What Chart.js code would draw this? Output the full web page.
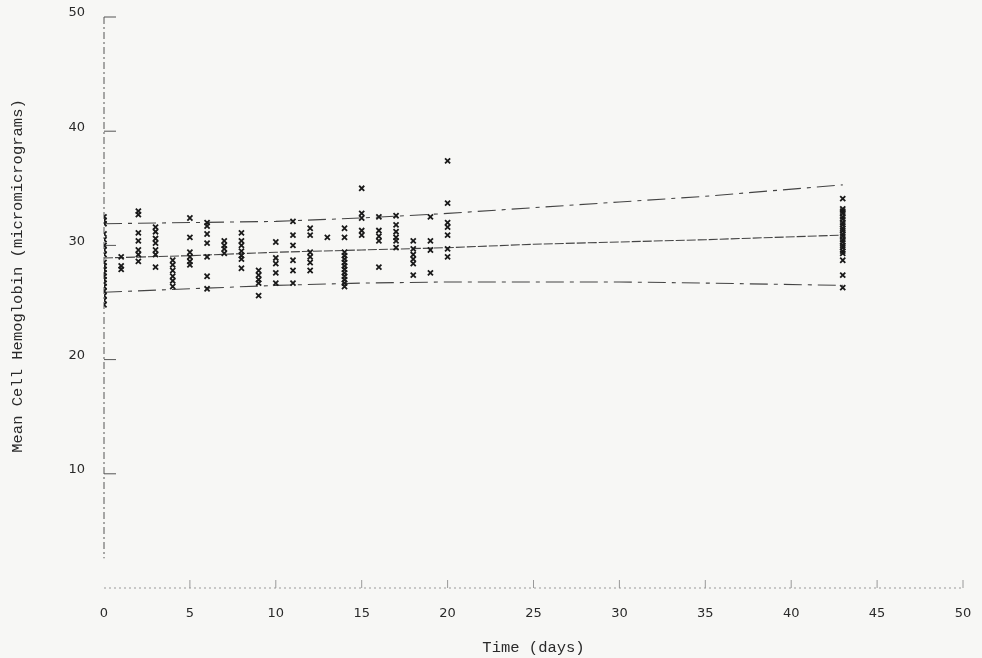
<!DOCTYPE html>
<html>
<head>
<meta charset="utf-8">
<title>Mean Cell Hemoglobin</title>
<script src="https://cdn.jsdelivr.net/npm/chart.js@4.4.1/dist/chart.umd.min.js"></script>
<style>
  html, body { margin: 0; padding: 0; background: #f7f7f5; }
  #wrap { width: 982px; height: 658px; position: relative; }
</style>
</head>
<body>
<div id="wrap"><canvas id="mchChart"></canvas></div>
<script>
// --- data ---
const days = [0, 1, 2, 3, 4, 5, 6, 7, 8, 9, 10, 11, 12, 13, 14, 15, 16, 17, 18, 19, 20, 43];
const mchByDay = [
    [32.5, 32.2, 31.9, 31.0, 30.5, 30.0, 29.6, 29.2, 28.5, 28.2, 27.9, 27.6, 27.3, 27.0, 26.7, 26.4, 26.0, 25.6, 25.2, 24.8],
    [29.0, 28.2, 27.9],
    [33.0, 32.7, 31.1, 30.4, 29.6, 29.2, 28.6],
    [31.6, 31.2, 30.6, 30.2, 29.6, 29.2, 28.1],
    [28.7, 28.3, 27.8, 27.3, 26.9, 26.4],
    [32.4, 30.7, 29.4, 29.0, 28.6, 28.3],
    [32.0, 31.7, 31.0, 30.2, 29.0, 27.3, 26.2],
    [30.4, 30.0, 29.7, 29.3],
    [31.1, 30.4, 30.0, 29.5, 29.1, 28.8, 28.0],
    [27.8, 27.4, 27.0, 26.7, 25.6],
    [30.3, 28.9, 28.4, 27.6, 26.7],
    [32.1, 30.9, 30.0, 28.7, 27.8, 26.7],
    [31.5, 30.9, 29.4, 29.0, 28.5, 27.8],
    [30.7],
    [31.5, 30.7, 29.4, 29.1, 28.8, 28.5, 28.2, 27.9, 27.6, 27.3, 27.0, 26.7, 26.4],
    [35.0, 32.8, 32.4, 31.3, 30.9],
    [32.5, 31.3, 30.8, 30.4, 28.1],
    [32.6, 31.8, 31.2, 30.7, 30.4, 29.8],
    [30.4, 29.7, 29.2, 28.8, 28.4, 27.4],
    [32.5, 30.4, 29.6, 27.6],
    [37.4, 33.7, 32.0, 31.6, 30.9, 29.7, 29.0],
    [34.1, 33.2, 33.0, 32.8, 32.5, 32.3, 32.0, 31.8, 31.5, 31.3, 31.0, 30.8, 30.5, 30.3, 30.0, 29.8, 29.5, 29.3, 28.7, 27.4, 26.3]
];

// fitted line and band, read at these days
const fitDays = [0, 5, 10, 15, 20, 25, 30, 35, 43];
const fitMean = [28.9, 29.1, 29.4, 29.6, 29.8, 30.1, 30.3, 30.5, 30.9];
const fitUpper = [31.9, 32.0, 32.1, 32.4, 32.8, 33.3, 33.8, 34.3, 35.3];
const fitLower = [25.9, 26.2, 26.5, 26.7, 26.8, 26.8, 26.8, 26.7, 26.5];

const xTicks = [0, 5, 10, 15, 20, 25, 30, 35, 40, 45, 50];
const yTicks = [10, 20, 30, 40, 50];
const xTitle = 'Time (days)';
const yTitle = 'Mean Cell Hemoglobin (micromicrograms)';

const scatterPts = [];
days.forEach((d, i) => mchByDay[i].forEach(v => scatterPts.push({ x: d, y: v })));
const toXY = (xs, ys) => xs.map((x, i) => ({ x: x, y: ys[i] }));

// axes, little ticks and titles drawn like the old plotter output
const plotterAxes = {
    id: 'plotterAxes',
    beforeDraw(chart) {
        const c = chart.ctx;
        c.save();
        c.fillStyle = '#f7f7f5';
        c.fillRect(0, 0, chart.width, chart.height);
        c.restore();
    },
    beforeDatasetsDraw(chart) {
        const c = chart.ctx;
        const xs = chart.scales.x, ys = chart.scales.y;
        const x0 = xs.getPixelForValue(0);
        const y0 = ys.getPixelForValue(0);
        c.save();
        // y axis, dash-dot
        c.strokeStyle = '#555';
        c.lineWidth = 1;
        c.setLineDash([7, 3, 2, 3]);
        c.beginPath();
        c.moveTo(x0, ys.getPixelForValue(50));
        c.lineTo(x0, ys.getPixelForValue(2.6));
        c.stroke();
        c.setLineDash([]);
        yTicks.forEach(v => {
            const p = ys.getPixelForValue(v);
            c.beginPath();
            c.moveTo(x0, p);
            c.lineTo(x0 + 12, p);
            c.stroke();
        });
        // x axis, faint dotted
        c.strokeStyle = '#999';
        c.setLineDash([2, 3]);
        c.beginPath();
        c.moveTo(x0, y0);
        c.lineTo(xs.getPixelForValue(50), y0);
        c.stroke();
        c.setLineDash([]);
        xTicks.slice(1).forEach(v => {
            const p = xs.getPixelForValue(v);
            c.beginPath();
            c.moveTo(p, y0);
            c.lineTo(p, y0 - 8);
            c.stroke();
        });
        // titles
        c.fillStyle = '#2a2a2a';
        c.font = '15.5px "Liberation Mono", monospace';
        c.textAlign = 'center';
        c.textBaseline = 'middle';
        c.fillText(xTitle, (chart.chartArea.left + chart.chartArea.right) / 2, 648);
        c.translate(18, 276);
        c.rotate(-Math.PI / 2);
        c.fillText(yTitle, 0, 0);
        c.restore();
    }
};

function noPadding(scale) {
    scale.paddingTop = 0;
    scale.paddingBottom = 0;
    scale.paddingLeft = 0;
    scale.paddingRight = 0;
}

const ctx = document.getElementById('mchChart').getContext('2d');
new Chart(ctx, {
    type: 'scatter',
    data: {
        datasets: [{
            label: 'MCH',
            data: scatterPts,
            pointStyle: 'crossRot',
            pointRadius: 3.6,
            borderColor: '#1a1a1a',
            borderWidth: 1.8
        }, {
            label: 'Fit',
            data: toXY(fitDays, fitMean),
            showLine: true,
            pointRadius: 0,
            borderColor: '#444',
            borderWidth: 1.1,
            borderDash: [9, 2]
        }, {
            label: 'Upper',
            data: toXY(fitDays, fitUpper),
            showLine: true,
            pointRadius: 0,
            borderColor: '#444',
            borderWidth: 1.1,
            borderDash: [18, 6, 4, 6]
        }, {
            label: 'Lower',
            data: toXY(fitDays, fitLower),
            showLine: true,
            pointRadius: 0,
            borderColor: '#444',
            borderWidth: 1.1,
            borderDash: [18, 6, 4, 6]
        }]
    },
    options: {
        responsive: true,
        maintainAspectRatio: false,
        animation: false,
        layout: { padding: { top: 17, right: 19, left: 0, bottom: 0 } },
        plugins: { legend: { display: false }, tooltip: { enabled: false } },
        scales: {
            x: {
                type: 'linear',
                min: 0,
                max: 50,
                afterFit(scale) { scale.height = 70; noPadding(scale); },
                afterBuildTicks(scale) { scale.ticks = xTicks.map(v => ({ value: v })); },
                grid: { display: false, drawTicks: false },
                border: { display: false },
                ticks: {
                    padding: 18,
                    color: '#2a2a2a',
                    font: { family: '"DejaVu Sans", sans-serif', size: 13 }
                }
            },
            y: {
                type: 'linear',
                min: 0,
                max: 50,
                afterFit(scale) { scale.width = 104; noPadding(scale); },
                afterBuildTicks(scale) { scale.ticks = yTicks.map(v => ({ value: v })); },
                grid: { display: false, drawTicks: false },
                border: { display: false },
                ticks: {
                    padding: 19,
                    labelOffset: -4,
                    color: '#2a2a2a',
                    font: { family: '"DejaVu Sans", sans-serif', size: 13 }
                }
            }
        }
    },
    plugins: [plotterAxes]
});
</script>
</body>
</html>
